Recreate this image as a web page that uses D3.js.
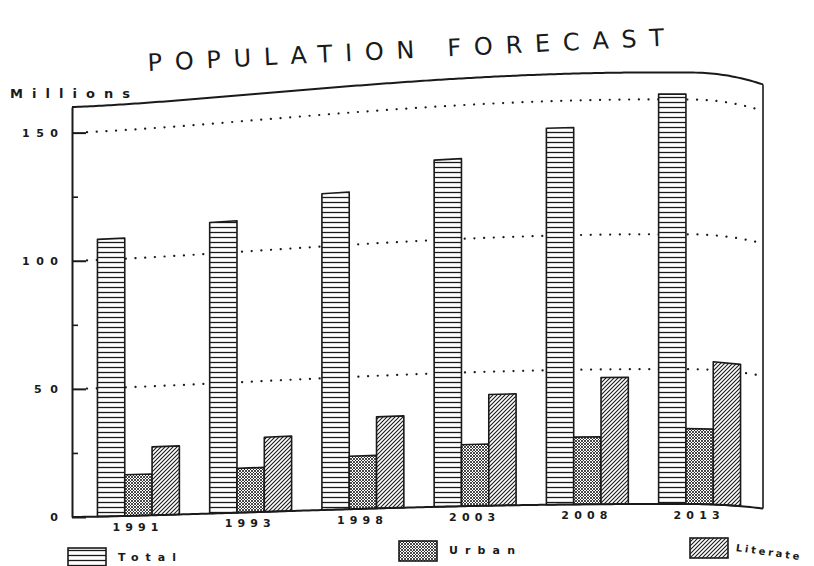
<!DOCTYPE html>
<html>
<head>
<meta charset="utf-8">
<script src="https://cdn.jsdelivr.net/npm/d3@7"></script>
<style>
  body { margin: 0; background: #fff; }
  text { fill: #1a1a1a; }
</style>
</head>
<body>
<div id="chart"></div>
<script>
// data (millions)
const years = ["1991", "1993", "1998", "2003", "2008", "2013"];
const total = [108, 112, 120, 130, 140, 152];
const urban = [16, 17, 20, 23, 25, 28];
const literate = [26.5, 28.5, 34.5, 41.5, 47, 53];
const seriesNames = ["Total", "Urban", "Literate"];
const gridValues = [50, 100, 150];
const majorTicks = [0, 50, 100, 150];
const minorTicks = [25, 75, 125];

const width = 814, height = 566;
const ink = "#1a1a1a";

const svg = d3
  .select("#chart")
  .append("svg")
  .attr("width", width)
  .attr("height", height)
  .style("background", "#fff");

// fill patterns, like the plotter hatching
const defs = svg.append("defs");

const pTotal = defs.append("pattern")
  .attr("id", "p-total")
  .attr("patternUnits", "userSpaceOnUse")
  .attr("width", 8).attr("height", 5);
pTotal.append("rect").attr("width", 8).attr("height", 5).attr("fill", "#fff");
pTotal.append("line")
  .attr("x1", 0).attr("x2", 8).attr("y1", 2.5).attr("y2", 2.5)
  .attr("stroke", ink).attr("stroke-width", 1.3);

const pUrban = defs.append("pattern")
  .attr("id", "p-urban")
  .attr("patternUnits", "userSpaceOnUse")
  .attr("width", 3).attr("height", 3);
pUrban.append("rect").attr("width", 3).attr("height", 3).attr("fill", "#fff");
pUrban.append("path")
  .attr("d", "M0,3 L3,0 M-1,1 L1,-1 M2,4 L4,2 M0,0 L3,3 M-1,2 L1,4 M2,-1 L4,1")
  .attr("stroke", ink).attr("stroke-width", 0.8);

const pLit = defs.append("pattern")
  .attr("id", "p-lit")
  .attr("patternUnits", "userSpaceOnUse")
  .attr("width", 4).attr("height", 4);
pLit.append("rect").attr("width", 4).attr("height", 4).attr("fill", "#fff");
pLit.append("path")
  .attr("d", "M-1,1 L1,-1 M0,4 L4,0 M3,5 L5,3")
  .attr("stroke", ink).attr("stroke-width", 1.1);

const fills = ["url(#p-total)", "url(#p-urban)", "url(#p-lit)"];

// plot frame
const x0 = 72, x1 = 763;
const y = d3.scaleLinear([0, 160], [517, 107]);
const x = d3.scaleBand(years, [75, x1]).paddingInner(0.27).paddingOuter(0.2);
const xs = d3.scaleBand(seriesNames, [0, x.bandwidth()]);

// the scanned sheet is bent: lines rise to the right, more so higher up
function bend(px) {
  const t = (px - x0) / (x1 - x0);
  const s = Math.pow(Math.sin((t * Math.PI) / 1.7), 1.3);
  return s - 30 * Math.pow(Math.max(0, t - 0.9), 2);
}
function py(px, v) {
  return y(v) - (13 + 0.135 * v) * bend(px);
}

const line = d3.line();
const along = (v, a, b) => d3.range(a, b + 0.1, 3).concat([b]).map((px) => [px, py(px, v)]);

// dotted gridlines
svg.append("g")
  .selectAll("path")
  .data(gridValues)
  .join("path")
  .attr("d", (v) => line(along(v, x0 + 15, x1 - 6)))
  .attr("fill", "none")
  .attr("stroke", ink)
  .attr("stroke-width", 2.2)
  .attr("stroke-linecap", "round")
  .attr("stroke-dasharray", "0.1 9.6");

// y axis, ticks point inward
const yAxis = svg.append("g")
  .attr("transform", `translate(${x0},0)`)
  .call(
    d3.axisLeft(y)
      .tickValues(majorTicks)
      .tickSizeInner(-14)
      .tickSizeOuter(0)
      .tickPadding(14)
  );
yAxis.select(".domain").attr("stroke", ink).attr("stroke-width", 2);
yAxis.selectAll(".tick line").attr("stroke", ink).attr("stroke-width", 2);
yAxis.selectAll(".tick text")
  .attr("font-family", "DejaVu Sans")
  .attr("font-weight", "bold")
  .attr("font-size", 11)
  .attr("textLength", (d) => (String(d).length * 12))
  .attr("lengthAdjust", "spacing");

svg.append("g")
  .attr("transform", `translate(${x0},0)`)
  .call(d3.axisLeft(y).tickValues(minorTicks).tickSize(-6).tickFormat(""))
  .call((g) => g.select(".domain").remove())
  .selectAll(".tick line")
  .attr("stroke", ink)
  .attr("stroke-width", 1.6);

// bars
const rows = years.flatMap((yr, i) =>
  [total[i], urban[i], literate[i]].map((v, s) => ({ yr, v, s }))
);

svg.append("g")
  .selectAll("path")
  .data(rows)
  .join("path")
  .attr("d", (d) => {
    const a = x(d.yr) + xs(seriesNames[d.s]);
    const b = a + xs.bandwidth();
    return line([[a, py(a, 0)], [a, py(a, d.v)], [b, py(b, d.v)], [b, py(b, 0)]]) + "Z";
  })
  .attr("fill", (d) => fills[d.s])
  .attr("stroke", ink)
  .attr("stroke-width", 1.6)
  .attr("stroke-linejoin", "round");

// top, right and bottom of the frame
svg.append("path")
  .attr("d", line(along(160, x0, x1)))
  .attr("fill", "none").attr("stroke", ink).attr("stroke-width", 2);
svg.append("path")
  .attr("d", line([[x1, py(x1, 160)], [x1, py(x1, 0)]]))
  .attr("fill", "none").attr("stroke", ink).attr("stroke-width", 1.6);
svg.append("path")
  .attr("d", line(along(0, x0, x1)))
  .attr("fill", "none").attr("stroke", ink).attr("stroke-width", 2);

// year labels
svg.append("g")
  .selectAll("text")
  .data(years)
  .join("text")
  .attr("x", (d) => x(d) + x.bandwidth() / 2 - 3)
  .attr("y", (d) => py(x(d) + x.bandwidth() / 2, 0) + 15)
  .attr("text-anchor", "middle")
  .attr("font-family", "DejaVu Sans")
  .attr("font-weight", "bold")
  .attr("font-size", 11)
  .attr("textLength", 46)
  .attr("lengthAdjust", "spacing")
  .text((d) => d);

// titles
svg.append("text")
  .attr("x", 148)
  .attr("y", 71)
  .attr("transform", "rotate(-2.8,148,71)")
  .attr("font-family", "DejaVu Sans")
  .attr("font-size", 24)
  .attr("textLength", 517)
  .attr("lengthAdjust", "spacing")
  .text("POPULATION FORECAST");

svg.append("text")
  .attr("x", 10)
  .attr("y", 98)
  .attr("font-family", "DejaVu Sans")
  .attr("font-weight", "bold")
  .attr("font-size", 13)
  .attr("textLength", 120)
  .attr("lengthAdjust", "spacing")
  .text("Millions");

// legend
const legendX = [68, 399, 690];
const legendY = [548, 541, 538];
const legendTextX = [50, 50, 46];
const legendTextW = [58, 66, 64];
const legendTilt = [0, 0, 8];

const lg = svg.append("g")
  .selectAll("g")
  .data(seriesNames)
  .join("g")
  .attr("transform", (d, i) => `translate(${legendX[i]},${legendY[i]})`);

lg.append("rect")
  .attr("width", 38)
  .attr("height", 20)
  .attr("fill", (d, i) => fills[i])
  .attr("stroke", ink)
  .attr("stroke-width", 1.6);

lg.append("text")
  .attr("x", (d, i) => legendTextX[i])
  .attr("y", 13)
  .attr("transform", (d, i) => `rotate(${legendTilt[i]},${legendTextX[i]},10)`)
  .attr("font-family", "DejaVu Sans")
  .attr("font-weight", "bold")
  .attr("font-size", (d, i) => (i === 2 ? 10 : 11))
  .attr("textLength", (d, i) => legendTextW[i])
  .attr("lengthAdjust", "spacing")
  .text((d) => d);
</script>
</body>
</html>
